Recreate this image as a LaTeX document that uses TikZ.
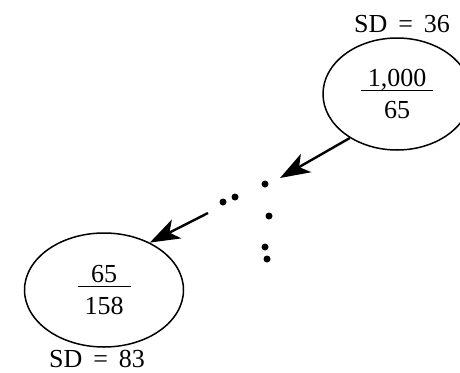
\documentclass[tikz,border=0pt]{standalone}
\usepackage{fontspec}
\setmainfont{Liberation Serif}
\usetikzlibrary{shapes.geometric,arrows.meta}
\newcommand{\stackfrac}[2]{\vbox{\halign{\hfil\kern7pt##\kern7pt\hfil\cr \raisebox{0pt}[\height][0pt]{#1}\cr\noalign{\kern3pt\hrule height 1.3pt\kern10pt}#2\cr}}}
\tikzset{
  txt/.style={font=\fontsize{26}{31}\selectfont, inner sep=0pt},
  oval/.style={ellipse, draw, line width=1.5pt, inner sep=0pt, font=\fontsize{26}{31}\selectfont},
  arr/.style={line width=2.4pt, -{Stealth[length=30pt,width=21pt,inset=8pt]}},
  dotnode/.style={circle, fill, inner sep=0pt, minimum size=7pt}
}
\begin{document}
\begin{tikzpicture}[x=1pt,y=-1pt]
\useasboundingbox (0,0) rectangle (460,372);
\node[oval, minimum width=148pt, minimum height=112pt] (top) at (397,94) {\stackfrac{1,000}{65}};
\node[oval, minimum width=159pt, minimum height=114pt] (bot) at (104,290) {\stackfrac{65}{158}};
\node[txt] (sdtop) at (402,24) {SD\hspace{0.42em}=\hspace{0.42em}36};
\node[txt] (sdbot) at (97,359) {SD\hspace{0.42em}=\hspace{0.42em}83};
\coordinate (tipA) at (280,178);
\coordinate (startB) at (208,213);
\draw[arr] (top.-137) -- (tipA);
\draw[arr] (startB) -- (bot.46);
\node[dotnode] (d1) at (223,202) {};
\node[dotnode] (d2) at (235,197) {};
\node[dotnode] (d3) at (265,184) {};
\node[dotnode] (d4) at (269,216) {};
\node[dotnode] (d5) at (265,247) {};
\node[dotnode] (d6) at (267,259) {};
\end{tikzpicture}
\end{document}
